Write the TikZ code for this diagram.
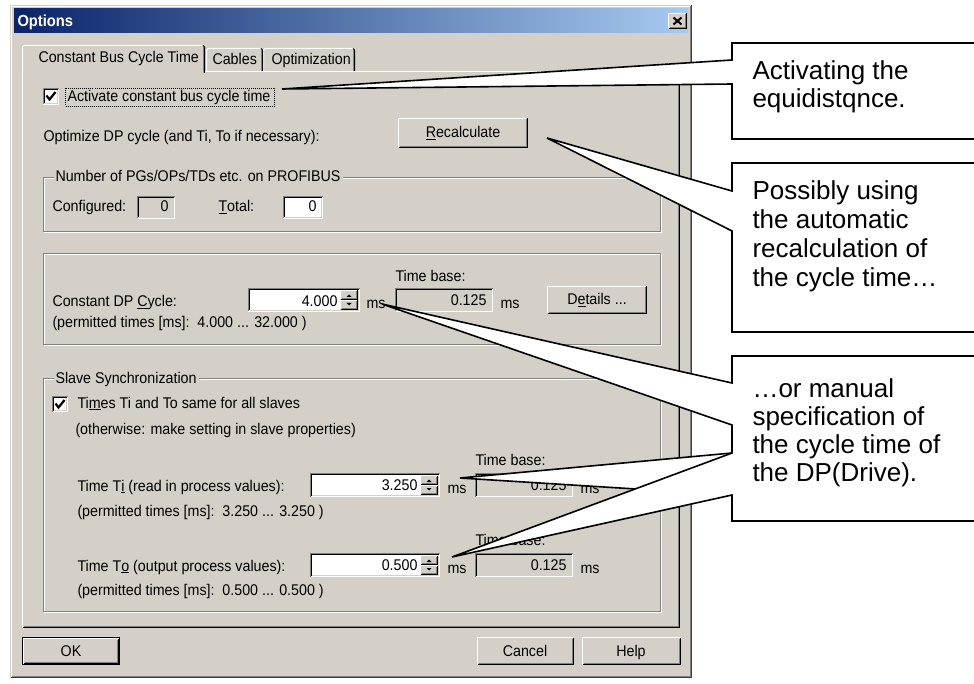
\documentclass[tikz,border=0pt]{standalone}
\usepackage{fontspec}
\setmainfont{Liberation Sans}
\newfontfamily\dlgfont[FakeStretch=0.92]{Liberation Sans}
\definecolor{dlgbg}{HTML}{D4D0C8}
\definecolor{dlgshadow}{HTML}{808080}
\definecolor{dlgdark}{HTML}{404040}
\definecolor{titleA}{HTML}{0A246A}
\definecolor{titleB}{HTML}{A6CAF0}
\newcommand\raisedrect[4]{%
  \fill[dlgbg] (#1,#2) rectangle (#3,#4);
  \draw[white] (#1+0.5,#4-0.5) -- (#1+0.5,#2+0.5) -- (#3-0.5,#2+0.5);
  \draw[black] (#1+0.5,#4-0.5) -- (#3-0.5,#4-0.5) -- (#3-0.5,#2+0.5);
  \draw[dlgshadow] (#1+1.5,#4-1.5) -- (#3-1.5,#4-1.5) -- (#3-1.5,#2+1.5);
}
\newcommand\sunkenrect[5]{%
  \fill[#5] (#1,#2) rectangle (#3,#4);
  \draw[white] (#1+0.5,#4-0.5) -- (#3-0.5,#4-0.5) -- (#3-0.5,#2+0.5);
  \draw[dlgbg] (#1+1.5,#4-1.5) -- (#3-1.5,#4-1.5) -- (#3-1.5,#2+1.5);
  \draw[dlgshadow] (#1+0.5,#4-0.5) -- (#1+0.5,#2+0.5) -- (#3-0.5,#2+0.5);
  \draw[black] (#1+1.5,#4-1.5) -- (#1+1.5,#2+1.5) -- (#3-1.5,#2+1.5);
}
\newcommand\groupframe[4]{%
  \draw[white] (#1+1.5,#2+1.5) rectangle (#3-0.5,#4-0.5);
  \draw[dlgshadow] (#1+0.5,#2+0.5) rectangle (#3-1.5,#4-1.5);
}
\newcommand\spinner[4]{%
  \pgfmathsetmacro\spinmid{(#2+#4)/2}%
  \pgfmathsetmacro\spincx{(#1+#3)/2}%
  \raisedrect{#1}{#2}{#3}{\spinmid}%
  \raisedrect{#1}{\spinmid}{#3}{#4}%
  \fill[black] (\spincx-2.5,\spinmid-3) -- (\spincx+2.5,\spinmid-3) -- (\spincx,\spinmid-5.5) -- cycle;
  \fill[black] (\spincx-2.5,\spinmid+3) -- (\spincx+2.5,\spinmid+3) -- (\spincx,\spinmid+5.5) -- cycle;
}
\newcommand\tabshape[4]{%
  \fill[dlgbg] (#1,#4) rectangle (#3,#2);
  \draw[white] (#1+0.5,#4) -- (#1+0.5,#2+2) -- (#1+2,#2+0.5) -- (#3-2,#2+0.5);
  \draw[black] (#3-2,#2+0.5) -- (#3-0.5,#2+2) -- (#3-0.5,#4);
  \draw[dlgshadow] (#3-1.5,#2+2) -- (#3-1.5,#4);
}
\begin{document}
\begin{tikzpicture}[x=1pt,y=-1pt,line width=1pt,
  dlg/.style={font=\dlgfont\fontsize{15.5}{18}\selectfont,inner sep=0pt,anchor=base west,text=black},
  dlgnum/.style={dlg,anchor=base east},
  dlgmid/.style={dlg,anchor=base},
  grouplabel/.style={dlg,fill=dlgbg,inner xsep=2pt,inner ysep=1pt},
  calltext/.style={font=\fontsize{26}{30}\selectfont,inner sep=0pt,anchor=base west},
  callout/.style={fill=white,draw=black,line width=1.6pt,line join=miter}]
\useasboundingbox (0,0) rectangle (974,684);
\fill[white] (0,0) rectangle (974,684);
% window
\fill[dlgbg] (10,5) rectangle (692,678);
\draw[white] (11.5,676.5) -- (11.5,6.5) -- (690.5,6.5);
\draw[dlgdark] (10.5,677.5) -- (691.5,677.5) -- (691.5,5.5);
\draw[dlgshadow] (11.5,676.5) -- (690.5,676.5) -- (690.5,6.5);
% title bar
\shade[left color=titleA,right color=titleB] (14,9) rectangle (688,33);
\node[font=\dlgfont\bfseries\fontsize{16}{18}\selectfont,text=white,inner sep=0pt,anchor=base west] (title) at (17,27) {Options};
\raisedrect{668}{13}{687}{29}
\draw[line width=2pt] (673.5,17.5) -- (681.5,24.5) (681.5,17.5) -- (673.5,24.5);
% tab panel
\draw[white] (22.5,627.5) -- (22.5,71.5) -- (679.5,71.5);
\draw[black] (22.5,627.5) -- (679.5,627.5) -- (679.5,71.5);
\draw[dlgshadow] (23.5,626.5) -- (678.5,626.5) -- (678.5,72.5);
\tabshape{263}{48}{355}{71}
\tabshape{206}{48}{263}{71}
\tabshape{22}{45}{205}{73}
\node[dlg] (tab1) at (38,63) {Constant Bus Cycle Time};
\node[dlg] (tab2) at (212,65) {Cables};
\node[dlg] (tab3) at (271,65) {Optimization};
% activate
\sunkenrect{43}{88}{59}{105}{white}
\draw[line width=2.2pt] (46.5,95.5) -- (49.5,99.5) -- (55.5,92);
\node[dlg] (activate) at (67,102) {Activate constant bus cycle time};
\draw[line width=0.8pt,dash pattern=on 1pt off 1pt] (65.5,88.5) rectangle (274.5,106.5);
\node[dlg] (optimize) at (43,142) {Optimize DP cycle (and Ti, To if necessary):};
\raisedrect{398}{118}{528}{148}
\node[dlgmid] (recalc) at (463,138) {\underline{R}ecalculate};
% group 1
\groupframe{43}{177}{662}{233}
\node[grouplabel] (g1) at (53,182) {Number of PGs/OPs/TDs etc. on PROFIBUS};
\node[dlg] (conf) at (52,212) {Configured:};
\sunkenrect{137}{196}{175}{219}{dlgbg}
\node[dlgnum] (confv) at (169,212) {0};
\node[dlg] (total) at (218,212) {\underline{T}otal:};
\sunkenrect{283}{196}{323}{219}{white}
\node[dlgnum] (totalv) at (317,212) {0};
% group 2
\groupframe{43}{253}{662}{346}
\node[dlg] (tb1) at (395,282) {Time base:};
\node[dlg] (dpc) at (52,307) {Constant DP \underline{C}ycle:};
\sunkenrect{248}{288}{360}{312}{white}
\spinner{340}{290}{358}{310}
\node[dlgnum] (dpv) at (338,307) {4.000};
\node[dlg] (dpms) at (366,309) {ms};
\sunkenrect{395}{288}{493}{312}{dlgbg}
\node[dlgnum] (tb1v) at (487,306) {0.125};
\node[dlg] (tb1ms) at (500,309) {ms};
\raisedrect{547}{286}{647}{314}
\node[dlgmid] (details) at (597,305) {D\underline{e}tails ...};
\node[dlg] (perm1) at (52,328) {(permitted times [ms]:\ \ 4.000 ... 32.000 )};
% group 3
\groupframe{43}{378}{662}{613}
\node[grouplabel] (g3) at (53,383) {Slave Synchronization};
\sunkenrect{52}{396}{68}{412}{white}
\draw[line width=2.2pt] (55.5,403.5) -- (58.5,407.5) -- (64.5,400);
\node[dlg] (same) at (77,408) {Ti\underline{m}es Ti and To same for all slaves};
\node[dlg] (other) at (75,434) {(otherwise: make setting in slave properties)};
\node[dlg] (tb2) at (475,465) {Time base:};
\node[dlg] (ti) at (77,491) {Time T\underline{i} (read in process values):};
\sunkenrect{310}{473}{440}{497}{white}
\spinner{420}{475}{438}{495}
\node[dlgnum] (tiv) at (418,490) {3.250};
\node[dlg] (tims) at (447,493) {ms};
\sunkenrect{475}{473}{573}{497}{dlgbg}
\node[dlgnum] (tb2v) at (567,490) {0.125};
\node[dlg] (tb2ms) at (580,493) {ms};
\node[dlg] (perm2) at (77,516) {(permitted times [ms]:\ \ 3.250 ... 3.250 )};
\node[dlg] (tb3) at (475,545) {Time base:};
\node[dlg] (to) at (77,571) {Time T\underline{o} (output process values):};
\sunkenrect{310}{553}{440}{577}{white}
\spinner{420}{555}{438}{575}
\node[dlgnum] (tov) at (418,570) {0.500};
\node[dlg] (toms) at (447,573) {ms};
\sunkenrect{475}{553}{573}{577}{dlgbg}
\node[dlgnum] (tb3v) at (567,570) {0.125};
\node[dlg] (tb3ms) at (580,573) {ms};
\node[dlg] (perm3) at (77,595) {(permitted times [ms]:\ \ 0.500 ... 0.500 )};
% buttons
\draw[black] (22.5,637.5) rectangle (119.5,664.5);
\raisedrect{23}{638}{119}{664}
\node[dlgmid] (ok) at (71,656) {OK};
\raisedrect{477}{637}{574}{665}
\node[dlgmid] (cancel) at (525,656) {Cancel};
\raisedrect{582}{637}{681}{665}
\node[dlgmid] (help) at (631,656) {Help};
% callouts
\coordinate (t1) at (282,89);
\coordinate (b1a) at (732,60);
\coordinate (b1b) at (732,84);
\path[callout] (990,43) -- (732,43) -- (b1a) -- (t1) -- (b1b) -- (732,139) -- (990,139);
\coordinate (t2) at (547,138);
\coordinate (b2a) at (732,191);
\coordinate (b2b) at (732,231);
\path[callout] (990,163) -- (732,163) -- (b2a) -- (t2) -- (b2b) -- (732,332) -- (990,332);
\coordinate (tdp) at (382,304);
\coordinate (tti) at (460,478);
\coordinate (tto) at (452,557);
\coordinate (b3a) at (732,383);
\coordinate (b3b) at (732,425);
\coordinate (b3c) at (732,453);
\coordinate (b3d) at (732,495);
\path[callout] (990,356) -- (732,356) -- (b3a) -- (tdp) -- (b3b) -- (b3c) -- (tti) -- (b3d) -- (732,521) -- (990,521);
\path[callout] (b3c) -- (tto) -- (b3d);
\node[calltext] (c1a) at (752,80) {Activating the};
\node[calltext] (c1b) at (752,108) {equidistqnce.};
\node[calltext] (c2a) at (752,200) {Possibly using};
\node[calltext] (c2b) at (752,229) {the automatic};
\node[calltext] (c2c) at (752,258) {recalculation of};
\node[calltext] (c2d) at (752,287) {the cycle time…};
\node[calltext] (c3a) at (752,397) {…or manual};
\node[calltext] (c3b) at (752,425) {specification of};
\node[calltext] (c3c) at (752,453) {the cycle time of};
\node[calltext] (c3d) at (752,481) {the DP(Drive).};
\end{tikzpicture}
\end{document}
